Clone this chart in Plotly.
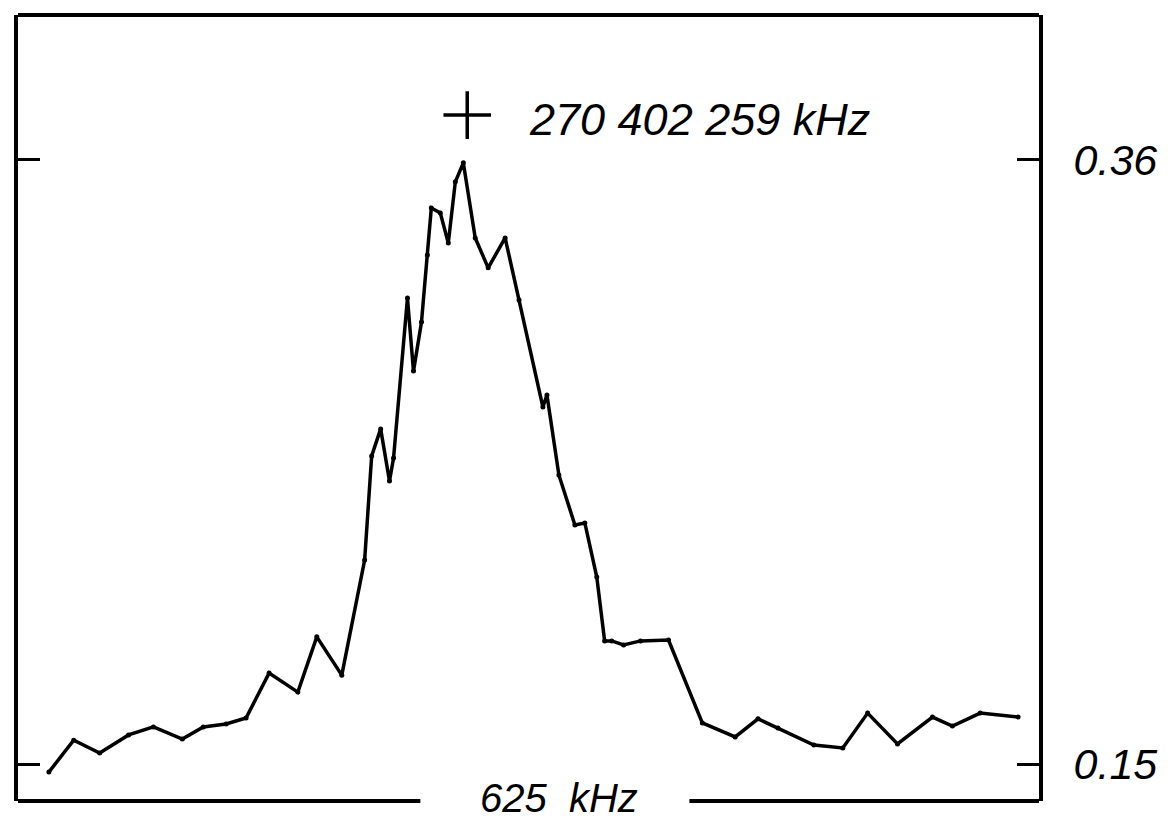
import plotly.graph_objects as go

# Frequency offset across the 625 kHz scan (kHz from left edge)
freq_khz = [18.9, 34.1, 50.0, 67.7, 82.9, 100.6, 113.4, 127.4, 139.6, 153.7,
            171.3, 182.9, 198.2, 212.2, 216.5, 222.0, 227.4, 229.9, 238.4, 242.1,
            247.0, 250.6, 253.0, 258.5, 263.4, 267.7, 272.6, 279.9, 287.8, 298.2,
            306.7, 321.3, 323.8, 331.1, 340.9, 347.0, 354.3, 359.1, 363.4, 370.7,
            381.1, 398.2, 418.9, 439.0, 453.0, 465.2, 487.2, 504.9, 520.1, 538.4,
            559.8, 572.0, 589.0, 612.2]
signal = [0.1472, 0.1583, 0.1538, 0.1601, 0.1629, 0.1587, 0.1629, 0.1639, 0.1660, 0.1816,
          0.1750, 0.1942, 0.1809, 0.2209, 0.2571, 0.2665, 0.2484, 0.2564, 0.3120, 0.2866,
          0.3037, 0.3270, 0.3433, 0.3416, 0.3311, 0.3524, 0.3590, 0.3329, 0.3225, 0.3329,
          0.3113, 0.2741, 0.2783, 0.2505, 0.2331, 0.2338, 0.2150, 0.1928, 0.1928, 0.1914,
          0.1928, 0.1931, 0.1643, 0.1594, 0.1657, 0.1625, 0.1566, 0.1556, 0.1677, 0.1570,
          0.1663, 0.1632, 0.1677, 0.1663]

y_tick_vals = [0.15, 0.36]
y_tick_text = ["0.15", "0.36"]
peak_marker_x = [275.0]
peak_marker_y = [0.3756]
peak_label = "270 402 259 kHz"
span_label = "625  kHz"
span_khz = 625
x_gap = [246.3, 411.0]

FAMILY = "Liberation Sans, Arial, Helvetica, sans-serif"
FONT = dict(family=FAMILY, size=43, color="black", style="italic")

fig = go.Figure()
fig.add_trace(go.Scatter(
    x=freq_khz, y=signal, mode="lines+markers",
    line=dict(color="black", width=3.5),
    marker=dict(color="black", size=5),
    showlegend=False, hoverinfo="skip"))
fig.add_trace(go.Scatter(
    x=peak_marker_x, y=peak_marker_y, mode="markers",
    marker=dict(symbol="cross-thin", size=34, line=dict(color="black", width=3.5)),
    showlegend=False, hoverinfo="skip"))

fig.add_annotation(x=311.5, y=0.3739, xref="x", yref="y", text=peak_label,
                   showarrow=False, xanchor="left", yanchor="middle",
                   font=dict(family=FAMILY, size=45, color="black", style="italic"))
fig.add_annotation(x=331.1, y=0, xref="x", yref="paper", text=span_label,
                   showarrow=False, xanchor="center", yanchor="middle", yshift=3,
                   font=dict(family=FAMILY, size=40, color="black", style="italic"))

# frame: top border and broken bottom border
fig.add_shape(type="line", xref="paper", yref="paper", x0=0, x1=1, y0=1, y1=1,
              line=dict(color="black", width=4))
fig.add_shape(type="line", xref="x", yref="paper", x0=0, x1=x_gap[0], y0=0, y1=0,
              line=dict(color="black", width=4))
fig.add_shape(type="line", xref="x", yref="paper", x0=x_gap[1], x1=span_khz, y0=0, y1=0,
              line=dict(color="black", width=4))

# page body has an 8px margin, so the figure is sized to fit inside the window
fig.update_layout(
    width=1167, height=812,
    margin=dict(l=6, r=136, t=7, b=19),
    paper_bgcolor="white", plot_bgcolor="white",
    xaxis=dict(range=[0, span_khz], showgrid=False, zeroline=False,
               showticklabels=False, ticks="", showline=False),
    yaxis=dict(range=[0.13714, 0.4104], side="right", showgrid=False, zeroline=False,
               tickvals=y_tick_vals, ticktext=y_tick_text, ticks="inside",
               ticklen=22, tickwidth=3, tickcolor="black",
               showline=True, linecolor="black", linewidth=4, mirror="ticks",
               ticklabelstandoff=22, tickfont=FONT),
)

fig.write_html("out.html")
